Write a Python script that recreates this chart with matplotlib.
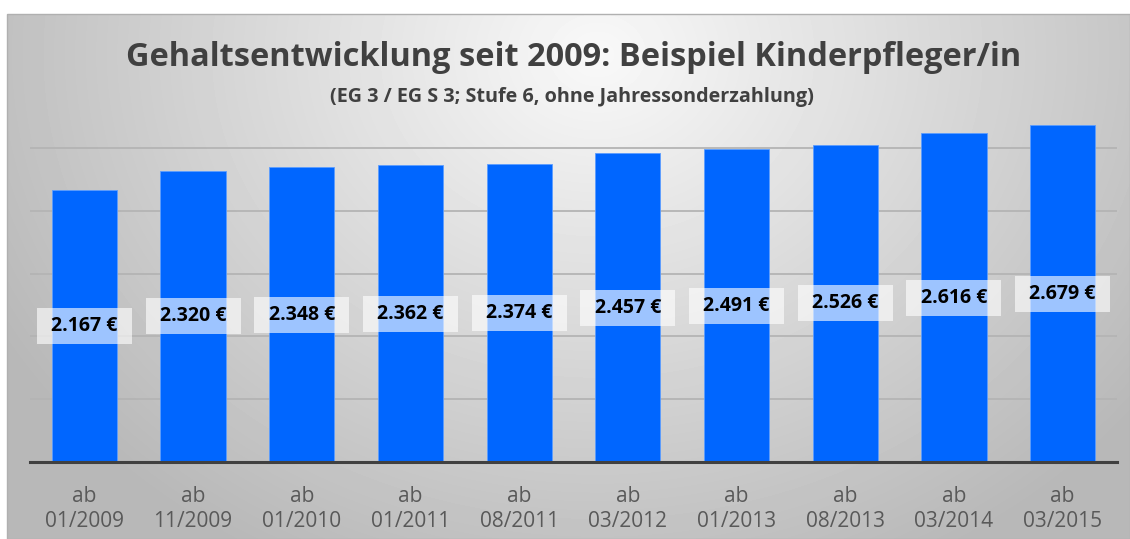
import matplotlib
matplotlib.use("Agg")
import matplotlib.pyplot as plt
import numpy as np
from matplotlib.patches import Rectangle

# data
zeitpunkte = ["01/2009", "11/2009", "01/2010", "01/2011", "08/2011",
              "03/2012", "01/2013", "08/2013", "03/2014", "03/2015"]
gehalt = [2167, 2320, 2348, 2362, 2374, 2457, 2491, 2526, 2616, 2679]

W, H = 1130, 539
fig = plt.figure(figsize=(W / 100, H / 100), dpi=100)
fig.patch.set_facecolor("white")

# gray radial gradient background of the chart frame
bg = fig.add_axes([7 / W, 0, (W - 7) / W, (H - 14) / H])
yy, xx = np.mgrid[0:H - 14, 0:W - 7]
d = np.sqrt(((xx - 590) / 620.0) ** 2 + ((yy - 40) / 520.0) ** 2)
shade = np.clip(0.975 - 0.23 * d, 0.72, 1.0)
bg.imshow(shade, cmap="gray", vmin=0, vmax=1, aspect="auto",
          extent=[0, 1, 0, 1], origin="upper")
bg.set_axis_off()
fig.patches.append(Rectangle((7 / W, 0), (W - 7) / W, (H - 14) / H,
                             transform=fig.transFigure, fill=False,
                             edgecolor="#b0b0b0", linewidth=1.0))

ax = fig.add_axes([30 / W, (H - 462) / H, 1087 / W, (462 - 109) / H])
ax.patch.set_alpha(0)

x = np.arange(len(gehalt))
ax.bar(x, gehalt, width=0.6, color="#0066ff", edgecolor="#5c9dff",
       linewidth=0.6, zorder=3)
ax.set_xlim(-0.5, len(gehalt) - 0.5)
ax.set_ylim(0, 2810)
ax.set_yticks([500, 1000, 1500, 2000, 2500])
ax.yaxis.grid(True, color="#b4b4b4", linewidth=1.3, zorder=0)
ax.tick_params(axis="y", left=False, labelleft=False)
ax.tick_params(axis="x", bottom=False, pad=14)
for s in ["top", "right", "left"]:
    ax.spines[s].set_visible(False)
ax.spines["bottom"].set_color("#404040")
ax.spines["bottom"].set_linewidth(2.2)
ax.spines["bottom"].set_zorder(4)

ax.set_xticks(x)
ax.set_xticklabels(["ab\n" + z for z in zeitpunkte], fontsize=15,
                   color="#595959", family="Open Sans", linespacing=1.2)

# label boxes: about 95 x 36 px
box_w = 0.874
box_h = 36 / (353 / 2810)
for xi, v in zip(x, gehalt):
    ax.add_patch(Rectangle((xi - box_w / 2, v / 2 - box_h / 2), box_w, box_h,
                           facecolor="white", edgecolor="none", alpha=0.62,
                           zorder=4))
    lbl = f"{v:,}".replace(",", ".") + " €"
    ax.text(xi, v / 2, lbl, ha="center", va="center", fontsize=14,
            fontweight="bold", family="Open Sans", color="black", zorder=5)

fig.text(574 / W, 1 - 57 / H,
         "Gehaltsentwicklung seit 2009: Beispiel Kinderpfleger/in",
         ha="center", va="center", fontsize=23.4, fontweight="bold",
         color="#404040", family="Open Sans")
fig.text(572 / W, 1 - 97 / H,
         "(EG 3 / EG S 3; Stufe 6, ohne Jahressonderzahlung)",
         ha="center", va="center", fontsize=14.2, fontweight="bold",
         color="#404040", family="Open Sans")

fig.savefig("out.png", dpi=100)
